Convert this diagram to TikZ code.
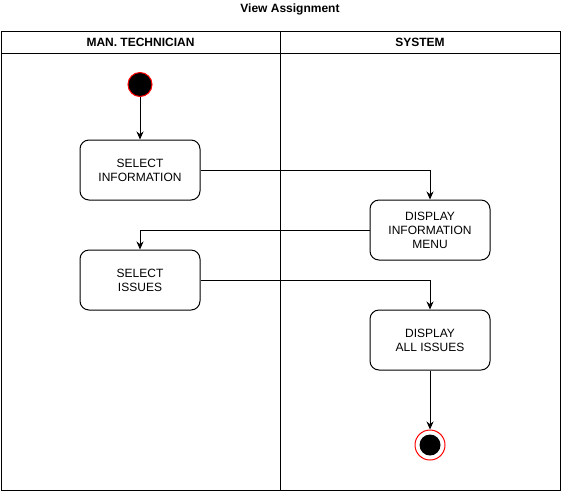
\documentclass[tikz,border=0pt]{standalone}
\usepackage{fontspec}
\setmainfont{Liberation Sans}
\usetikzlibrary{arrows.meta,positioning}

\tikzset{
  action/.style={draw, line width=1pt, rounded corners=9pt, minimum width=120pt, minimum height=60pt,
    align=center, font=\fontsize{12}{14}\selectfont, inner sep=2pt},
  lanehead/.style={font=\bfseries\fontsize{12}{14}\selectfont},
  flow/.style={-{Stealth[length=8pt,width=7pt]}, line width=1pt},
}

\begin{document}
\begin{tikzpicture}[x=1pt, y=-1pt]
    \useasboundingbox (0,0) rectangle (561,491);

    % title
    \node[lanehead] (title) at (290,9) {View Assignment};

    % swimlanes
    \draw[line width=1pt] (1,31) rectangle (560,490);
    \draw[line width=1pt] (1,53) -- (560,53);
    \draw[line width=1pt] (280,31) -- (280,490);
    \node[lanehead] (lanetech) at (140.5,42) {MAN. TECHNICIAN};
    \node[lanehead] (lanesys) at (420,42) {SYSTEM};

    % start and end
    \node[circle, draw=red, line width=1pt, fill=black, minimum size=24pt, inner sep=0pt] (start) at (140,84.5) {};
    \node[circle, draw=red, line width=1pt, minimum size=30pt, inner sep=0pt] (stop) at (430,445) {};
    \node[circle, fill=black, minimum size=21pt, inner sep=0pt] (stopdot) at (stop) {};

    % actions
    \node[action] (selinfo) at (140,170) {SELECT\\INFORMATION};
    \node[action] (dispmenu) at (430,230) {DISPLAY\\INFORMATION\\MENU};
    \node[action] (selissues) at (140,280) {SELECT\\ISSUES};
    \node[action] (dispall) at (430,340) {DISPLAY\\ALL ISSUES};

    % flows
    \draw[flow] (start) -- (selinfo);
    \draw[flow] (selinfo.east) -| (dispmenu.north);
    \draw[flow] (dispmenu.west) -| (selissues.north);
    \draw[flow] (selissues.east) -| (dispall.north);
    \draw[flow] (dispall) -- (stop);
\end{tikzpicture}
\end{document}
